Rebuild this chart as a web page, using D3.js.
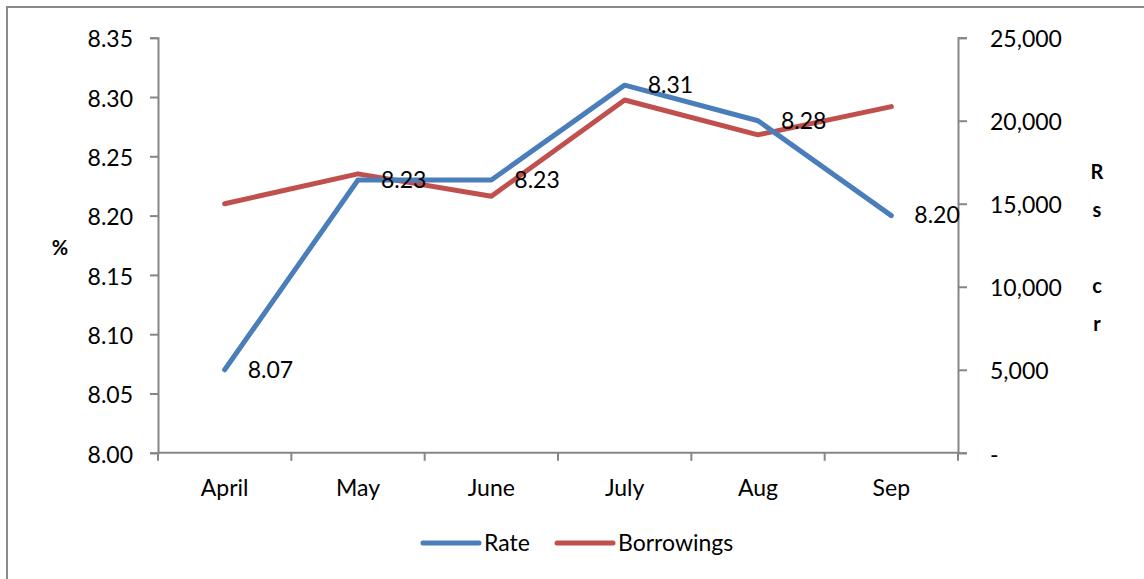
<!DOCTYPE html>
<html>
<head>
<meta charset="utf-8">
<script src="https://cdn.jsdelivr.net/npm/d3@7/dist/d3.min.js"></script>
<style>
  body { margin: 0; background: #fff; }
  text { font-family: Lato, "Open Sans", sans-serif; fill: #000; }
</style>
</head>
<body>
<div id="chart"></div>
<script>
var months = ["April", "May", "June", "July", "Aug", "Sep"];
var rate = [8.07, 8.23, 8.23, 8.31, 8.28, 8.20];
var borrowings = [15000, 16800, 15450, 21250, 19150, 20850];
var leftTicks = [8.00, 8.05, 8.10, 8.15, 8.20, 8.25, 8.30, 8.35];
var rightTicks = [0, 5000, 10000, 15000, 20000, 25000];

var width = 1144, height = 579;
var plotLeft = 158, plotRight = 958, plotTop = 37.7, plotBottom = 452.8;
var fs = "23px";

var svg = d3.select("#chart").append("svg")
  .attr("width", width)
  .attr("height", height);

// outer frame, runs off the picture on the right and bottom
svg.append("rect")
  .attr("x", 7).attr("y", 7)
  .attr("width", width + 10).attr("height", height + 10)
  .attr("fill", "none")
  .attr("stroke", "#898989")
  .attr("stroke-width", 2);

var x = d3.scaleBand().domain(months).range([plotLeft, plotRight]).padding(0);
var yL = d3.scaleLinear().domain([8.00, 8.35]).range([plotBottom, plotTop]);
var yR = d3.scaleLinear().domain([0, 25000]).range([plotBottom, plotTop]);

var axisColor = "#868686";

// left axis
var gL = svg.append("g")
  .attr("transform", "translate(" + plotLeft + ",0)")
  .call(d3.axisLeft(yL).tickValues(leftTicks).tickSize(8).tickPadding(17)
    .tickFormat(d3.format(".2f")));

// right axis
var gR = svg.append("g")
  .attr("transform", "translate(" + plotRight + ",0)")
  .call(d3.axisRight(yR).tickValues(rightTicks).tickSize(9).tickPadding(23)
    .tickFormat(function (d) { return d === 0 ? "-" : d3.format(",")(d); }));

[gL, gR].forEach(function (g) {
  g.select(".domain").attr("stroke", axisColor).attr("stroke-width", 2);
  g.selectAll(".tick line").attr("stroke", axisColor).attr("stroke-width", 2);
  g.selectAll(".tick text").style("font-size", fs).attr("fill", "#000")
    .attr("dy", "0.4em")
    .style("font-family", "Lato, sans-serif");
});

// category axis, ticks sit on band edges
svg.append("line")
  .attr("x1", plotLeft).attr("x2", plotRight)
  .attr("y1", plotBottom).attr("y2", plotBottom)
  .attr("stroke", axisColor).attr("stroke-width", 2);

var edges = months.map(function (m) { return x(m); }).concat([plotRight]);
svg.selectAll(".xtick")
  .data(edges)
  .enter().append("line")
  .attr("class", "xtick")
  .attr("x1", function (d) { return d; })
  .attr("x2", function (d) { return d; })
  .attr("y1", plotBottom)
  .attr("y2", plotBottom + 8)
  .attr("stroke", axisColor).attr("stroke-width", 2);

svg.selectAll(".xlabel")
  .data(months)
  .enter().append("text")
  .attr("class", "xlabel")
  .attr("x", function (d) { return x(d) + x.bandwidth() / 2; })
  .attr("y", 490)
  .attr("text-anchor", "middle")
  .attr("dominant-baseline", "middle")
  .style("font-size", fs)
  .text(function (d) { return d; });

// axis titles
svg.append("text")
  .attr("x", 60).attr("y", 250)
  .attr("text-anchor", "middle")
  .attr("dominant-baseline", "middle")
  .style("font-size", "20px")
  .style("font-weight", "bold")
  .text("%");

var rsLetters = ["R", "s", "", "c", "r"];
svg.selectAll(".rs")
  .data(rsLetters)
  .enter().append("text")
  .attr("class", "rs")
  .attr("x", 1097)
  .attr("y", function (d, i) { return 174 + i * 38; })
  .attr("text-anchor", "middle")
  .attr("dominant-baseline", "middle")
  .style("font-size", "20px")
  .style("font-weight", "bold")
  .text(function (d) { return d; });

var cx = function (d, i) { return x(months[i]) + x.bandwidth() / 2; };

var lineRate = d3.line().x(cx).y(function (d) { return yL(d); });
var lineBorr = d3.line().x(cx).y(function (d) { return yR(d); });

svg.append("path")
  .datum(borrowings)
  .attr("d", lineBorr)
  .attr("fill", "none")
  .attr("stroke", "#C0504D")
  .attr("stroke-width", 5)
  .attr("stroke-linecap", "round")
  .attr("stroke-linejoin", "round");

svg.append("path")
  .datum(rate)
  .attr("d", lineRate)
  .attr("fill", "none")
  .attr("stroke", "#4A7EBB")
  .attr("stroke-width", 5)
  .attr("stroke-linecap", "round")
  .attr("stroke-linejoin", "round");

// data labels for rate
svg.selectAll(".dlabel")
  .data(rate)
  .enter().append("text")
  .attr("class", "dlabel")
  .attr("x", function (d, i) { return cx(d, i) + 23; })
  .attr("y", function (d) { return yL(d) + 2; })
  .attr("dominant-baseline", "middle")
  .style("font-size", fs)
  .text(function (d) { return d3.format(".2f")(d); });

// legend
var legend = [
  { name: "Rate", color: "#4A7EBB", x: 423 },
  { name: "Borrowings", color: "#C0504D", x: 557 }
];
var lg = svg.selectAll(".legend")
  .data(legend)
  .enter().append("g")
  .attr("class", "legend")
  .attr("transform", function (d) { return "translate(" + d.x + ",543)"; });
lg.append("line")
  .attr("x1", 0).attr("x2", 56)
  .attr("stroke", function (d) { return d.color; })
  .attr("stroke-width", 5)
  .attr("stroke-linecap", "round");
lg.append("text")
  .attr("x", 61)
  .attr("y", 2)
  .attr("dominant-baseline", "middle")
  .style("font-size", fs)
  .text(function (d) { return d.name; });
</script>
</body>
</html>
